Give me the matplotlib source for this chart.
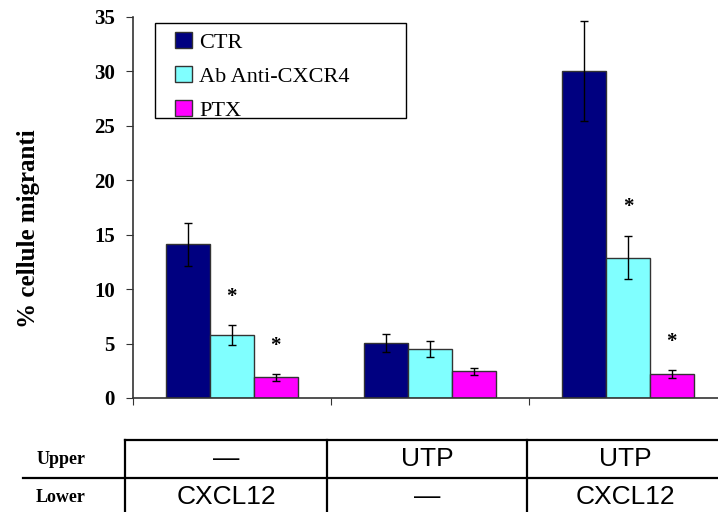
import numpy as np
import matplotlib.pyplot as plt
from matplotlib.lines import Line2D
from matplotlib.patches import Rectangle

series = ["CTR", "Ab Anti-CXCR4", "PTX"]
colors = ["#000080", "#80ffff", "#ff00ff"]
ctr = [14.1, 5.05, 30.0]
ctr_err = [2.0, 0.8, 4.6]
anti = [5.8, 4.5, 12.9]
anti_err = [0.9, 0.7, 2.0]
ptx = [1.9, 2.45, 2.2]
ptx_err = [0.3, 0.3, 0.35]
# asterisks: (group, series index)
stars = [(0, 1), (0, 2), (2, 1), (2, 2)]

upper = ["\u2014", "UTP", "UTP"]
lower = ["CXCL12", "\u2014", "CXCL12"]

fig = plt.figure(figsize=(7.18, 5.12), dpi=100)
ax = fig.add_axes([0.185, 0.2227, 0.815, 0.7441])

x = np.arange(3) + 0.5
w = 0.222
vals = [ctr, anti, ptx]
errs = [ctr_err, anti_err, ptx_err]
for i in range(3):
    ax.bar(x + (i - 1) * w, vals[i], w, color=colors[i], edgecolor="#333333",
           linewidth=1.0, label=series[i], zorder=2)
    ax.errorbar(x + (i - 1) * w, vals[i], yerr=errs[i], fmt="none",
                ecolor="black", elinewidth=1.0, capsize=3, capthick=1.0, zorder=3)

for g, s in stars:
    top = vals[s][g] + errs[s][g]
    ax.text(x[g] + (s - 1) * w, top + 2.6, "*", ha="center", va="center",
            fontsize=15, fontweight="bold", family="Liberation Serif")

ax.set_xlim(0, 2.955)
ax.set_ylim(0, 35)
ax.set_yticks(np.arange(0, 36, 5))
ax.set_xticks([0, 1, 2])
ax.set_xticklabels([])
ax.tick_params(axis="x", direction="out", length=5, color="#333333")
ax.tick_params(axis="y", direction="out", length=5, color="#333333", pad=8)
for lab in ax.get_yticklabels():
    lab.set_family("Liberation Serif")
    lab.set_fontweight("bold")
    lab.set_fontsize(15)
for sp in ["top", "right"]:
    ax.spines[sp].set_visible(False)
for sp in ["left", "bottom"]:
    ax.spines[sp].set_color("#333333")
    ax.spines[sp].set_linewidth(1.2)
ax.set_ylabel("% cellule migranti", family="Liberation Serif", fontweight="bold",
              fontsize=18)
ax.yaxis.set_label_coords(-0.159, 0.444)

# legend without its own frame, box drawn separately
leg = ax.legend(loc="upper left", bbox_to_anchor=(0.0718, 0.96), frameon=False,
                prop={"family": "Liberation Serif", "size": 16},
                handlelength=0.75, handleheight=0.7, handletextpad=0.35,
                borderpad=0, labelspacing=0.6, borderaxespad=0)
ax.add_patch(Rectangle((0.0376, 0.735), 0.429, 0.249, transform=ax.transAxes,
                       fill=False, edgecolor="black", lw=1.0, clip_on=False, zorder=4))

# table below the chart (figure pixel coordinates)
W, H = 718.0, 512.0
def fx(px):
    return px / W
def fy(py):
    return 1 - py / H

lw = 1.6
fig.add_artist(Line2D([fx(125), fx(718)], [fy(440), fy(440)], color="black", lw=lw))
fig.add_artist(Line2D([fx(23), fx(718)], [fy(478), fy(478)], color="black", lw=lw))
for vx in [125, 327, 527]:
    fig.add_artist(Line2D([fx(vx), fx(vx)], [fy(440), fy(512)], color="black", lw=lw))

fig.text(fx(61), fy(459), "Upper", ha="center", va="center",
         family="Liberation Serif", fontweight="bold", fontsize=13)
fig.text(fx(61), fy(497), "Lower", ha="center", va="center",
         family="Liberation Serif", fontweight="bold", fontsize=13)
cx = [226, 427, 625]
for i in range(3):
    fig.text(fx(cx[i]), fy(459), upper[i], ha="center", va="center",
             family="Liberation Sans", fontsize=19)
    fig.text(fx(cx[i]), fy(497), lower[i], ha="center", va="center",
             family="Liberation Sans", fontsize=19)

fig.savefig("out.png", dpi=100)
